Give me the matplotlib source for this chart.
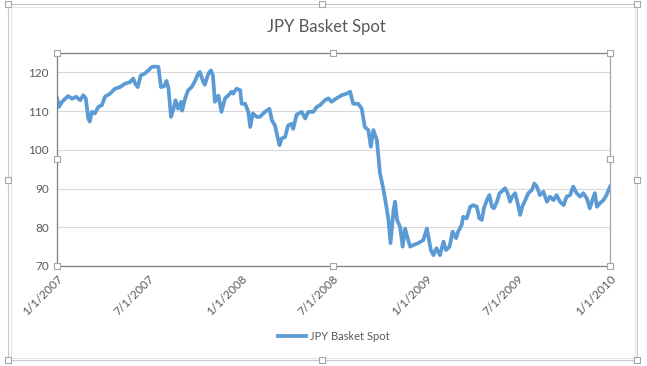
import numpy as np
import pandas as pd
import matplotlib
matplotlib.use("Agg")
import matplotlib.pyplot as plt
import matplotlib.dates as mdates
from matplotlib.ticker import FuncFormatter

# series: days after 1/1/2007 and basket level
start = "2007-01-01"
day_offsets = [
    0, 4, 10, 22, 30, 38, 46, 52, 57, 62, 65, 69, 75, 82, 89, 95, 105, 115, 125,
    135, 145, 151, 155, 160, 166, 174, 181, 188, 194, 201, 206, 212, 217, 221,
    226, 231, 235, 240, 246, 248, 254, 260, 267, 274, 280, 283, 290, 293, 300,
    305, 309, 313, 320, 326, 333, 340, 346, 349, 356, 363, 366, 373, 379, 383,
    388, 396, 402, 412, 421, 426, 432, 437, 441, 445, 452, 458, 465, 468, 475,
    485, 492, 498, 508, 515, 521, 531, 538, 544, 554, 564, 574, 581, 587, 597,
    604, 610, 617, 622, 627, 634, 640, 646, 650, 657, 661, 667, 670, 674, 680,
    685, 690, 694, 700, 706, 716, 726, 733, 736, 741, 746, 752, 759, 766, 771,
    778, 784, 791, 795, 802, 805, 812, 819, 825, 832, 837, 842, 846, 852, 857,
    862, 866, 872, 877, 881, 888, 893, 898, 902, 908, 913, 918, 922, 928, 934,
    941, 946, 951, 957, 964, 971, 977, 984, 990, 997, 1004, 1010, 1017, 1023,
    1030, 1037, 1043, 1050, 1056, 1061, 1066, 1070, 1076, 1083, 1089, 1096,
]
spot = [
    113.3, 111.1, 112.4, 113.9, 113.2, 113.7, 112.8, 114.1, 113.3, 108.1, 107.3,
    109.8, 109.4, 111.1, 111.5, 113.7, 114.5, 115.8, 116.2, 117.1, 117.5, 118.4,
    117.1, 116.2, 119.2, 119.7, 120.5, 121.4, 121.5, 121.4, 116.2, 116.4, 117.8,
    115.8, 108.5, 110.6, 112.8, 110.6, 112.4, 110.1, 113.3, 115.4, 116.2, 117.9,
    119.7, 120.1, 117.5, 116.8, 119.7, 120.5, 119.2, 112.4, 114.0, 109.8, 113.3,
    114.1, 115.0, 114.5, 115.8, 115.4, 111.9, 111.9, 109.8, 105.9, 109.4, 108.5,
    108.5, 109.8, 110.6, 107.6, 106.3, 103.3, 101.2, 102.9, 103.3, 106.3, 106.7,
    105.4, 109.1, 109.8, 108.1, 109.8, 109.8, 111.1, 111.5, 112.8, 113.3, 112.4,
    113.3, 114.1, 114.5, 115.0, 111.9, 111.9, 110.6, 105.9, 105.1, 100.8, 105.1,
    102.5, 94.0, 90.4, 87.5, 81.9, 75.9, 84.5, 86.6, 81.9, 80.1, 75.0, 79.7,
    77.6, 75.0, 75.4, 75.9, 76.7, 79.7, 77.6, 74.1, 72.8, 74.6, 72.8, 76.3,
    74.1, 75.0, 78.9, 77.2, 78.9, 80.6, 82.7, 82.3, 85.3, 85.7, 85.3, 82.3,
    81.9, 84.9, 87.0, 88.3, 85.3, 84.9, 86.6, 88.8, 89.2, 90.1, 88.8, 86.6,
    87.9, 88.8, 86.2, 83.2, 85.3, 87.0, 88.8, 89.6, 91.3, 90.5, 88.3, 89.2,
    86.6, 87.9, 87.0, 88.3, 86.6, 85.7, 87.9, 88.3, 90.5, 88.8, 87.9, 88.8,
    87.5, 84.9, 87.0, 88.8, 85.3, 86.2, 87.0, 88.3, 90.5,
]
series_name = "JPY Basket Spot"
y_ticks = [70, 80, 90, 100, 110, 120]

dates = pd.Timestamp(start) + pd.to_timedelta(day_offsets, unit="D")

txt = "#595959"
plt.rcParams["font.family"] = ["Lato", "DejaVu Sans"]

fig = plt.figure(figsize=(6.47, 3.66), dpi=100)

# chart frame + selection handles (drawn in pixel space on a background axes)
bg = fig.add_axes([0, 0, 1, 1])
bg.set_xlim(0, 647)
bg.set_ylim(366, 0)
bg.axis("off")
bg.add_patch(plt.Rectangle((8, 4), 629, 356, fill=False, ec="#c8c8c8", lw=0.8))
bg.add_patch(plt.Rectangle((10.5, 6.5), 624, 351, fill=False, ec="#e0e0e0", lw=0.6))
hx = [8, 322, 637, 8, 637, 8, 322, 637]
hy = [4, 4, 4, 180, 180, 360, 360, 360]
bg.plot(hx, hy, "s", ms=4.5, mfc="white", mec="#a6a6a6", mew=0.8, zorder=5)

ax = fig.add_axes([57 / 647, 1 - 266 / 366, 553 / 647, 213 / 366])
ax.plot(dates, spot, color="#5b9bd5", lw=2.7, solid_joinstyle="round", label=series_name)

ax.set_ylim(70, 125)
ax.set_yticks(y_ticks)
ax.set_xlim(pd.Timestamp("2007-01-01"), pd.Timestamp("2010-01-01"))
ax.xaxis.set_major_locator(mdates.MonthLocator(bymonth=[1, 7]))
ax.xaxis.set_major_formatter(FuncFormatter(
    lambda v, p: (lambda d: f"{d.month}/{d.day}/{d.year}")(mdates.num2date(v))))
ax.grid(axis="y", color="#d9d9d9", lw=0.8)
ax.set_axisbelow(True)
ax.tick_params(length=0, colors=txt, labelsize=8.5)
ax.tick_params(axis="y", pad=6)
ax.tick_params(axis="x", pad=5)
for lbl in ax.get_xticklabels():
    lbl.set_rotation(45)
    lbl.set_ha("right")
    lbl.set_rotation_mode("anchor")
for s in ["top", "bottom", "left"]:
    ax.spines[s].set_color("#7f7f7f")
    ax.spines[s].set_linewidth(0.9)
ax.spines["right"].set_color("#a6a6a6")
ax.spines["right"].set_linewidth(0.9)

# plot-area handles
px = [57, 333, 610, 57, 610, 57, 333, 610]
py = [53, 53, 53, 159, 159, 266, 266, 266]
bg.plot(px, py, "s", ms=4.5, mfc="white", mec="#a6a6a6", mew=0.8, zorder=6)
bg.set_zorder(ax.get_zorder() + 1)
bg.patch.set_alpha(0)

fig.text(0.505, 1 - 27 / 366, series_name, ha="center", va="center", fontsize=12, color=txt)
ax.legend(loc="center", bbox_to_anchor=(0.5, (366 - 336 - 100) / 213), frameon=False,
          fontsize=8, labelcolor=txt, handlelength=2.6, handletextpad=0.3)

fig.savefig("out.png", dpi=100)
